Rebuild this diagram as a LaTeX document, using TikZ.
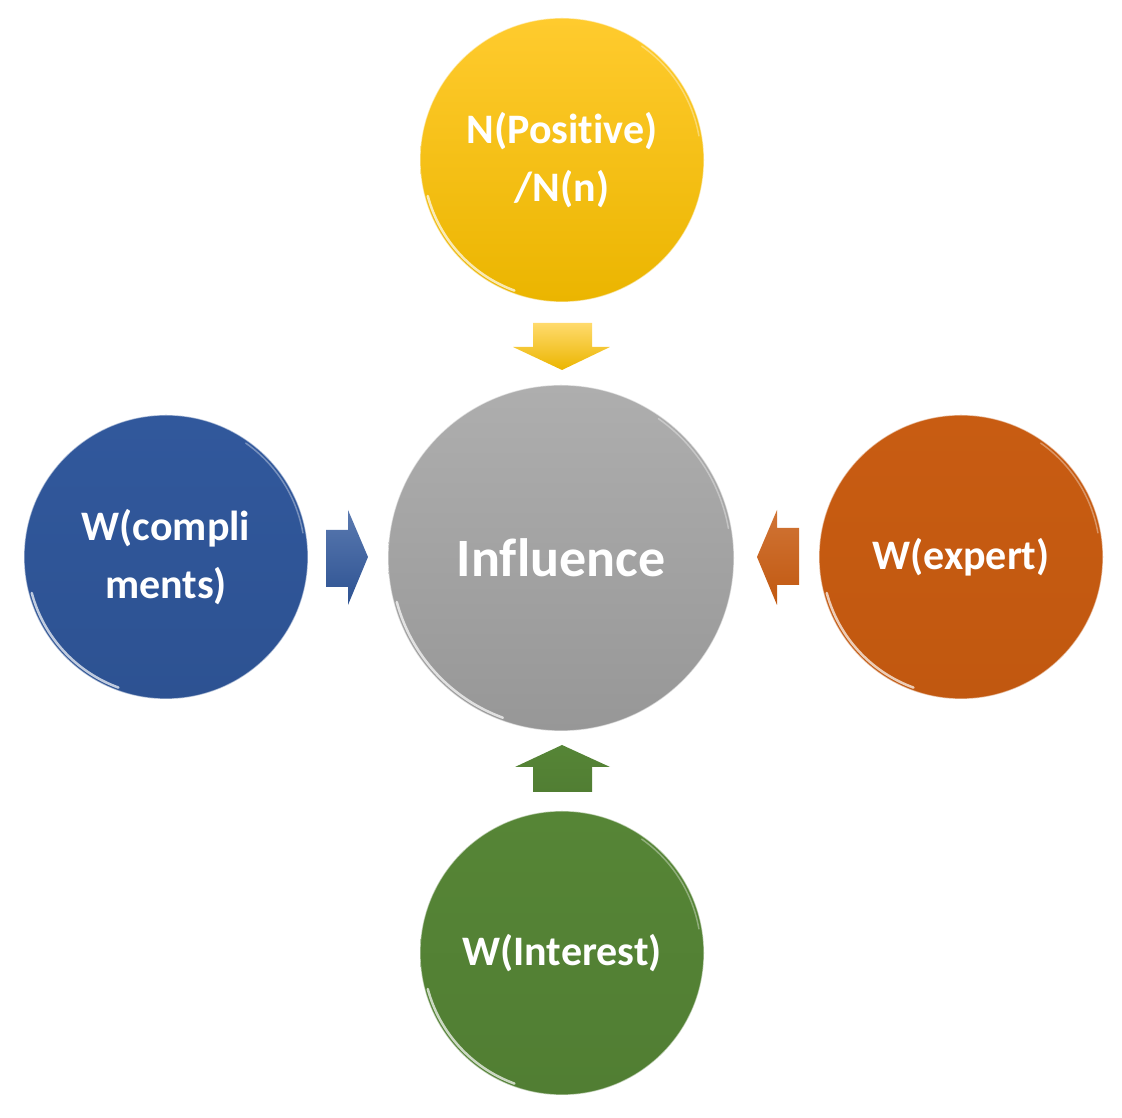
\documentclass[tikz,border=0pt]{standalone}
\usepackage{fontspec}
\setmainfont{Carlito}[Ligatures=NoCommon]
\usetikzlibrary{calc}
\definecolor{yelTop}{HTML}{FFCB2E}
\definecolor{yelBot}{HTML}{EBB500}
\definecolor{grayTop}{HTML}{AEAEAE}
\definecolor{grayBot}{HTML}{979797}
\definecolor{bluTop}{HTML}{31589C}
\definecolor{bluBot}{HTML}{2D5292}
\definecolor{oraTop}{HTML}{C85C12}
\definecolor{oraBot}{HTML}{C15810}
\definecolor{grnTop}{HTML}{568536}
\definecolor{grnBot}{HTML}{517E33}
\begin{document}
\begin{tikzpicture}[x=1pt,y=1pt]
\useasboundingbox (0,0) rectangle (1122,1118);
\tikzset{
  ball/.style={circle, inner sep=0pt, minimum size=284, text=white,
    font=\bfseries\fontsize{42}{58}\selectfont, align=center,
    draw=white, draw opacity=0.55, line width=1.2pt},
  rim/.style={white, line width=2.5pt, opacity=0.7, line cap=round}
}
% nodes
\node[ball, top color=yelTop, bottom color=yelBot] (pos) at (562,958) {\raisebox{-5pt}{N(Positive)}\\\raisebox{-5pt}{/N(n)}};
\node[ball, top color=bluTop, bottom color=bluBot] (cmp) at (166,561) {W(compli\\ments)};
\node[ball, top color=oraTop, bottom color=oraBot] (exp) at (961,561) {W(expert)};
\node[ball, top color=grnTop, bottom color=grnBot] (int) at (562,165) {W(Interest)};
\node[ball, minimum size=346, top color=grayTop, bottom color=grayBot,
      font=\bfseries\fontsize{54}{60}\selectfont] (inf) at (561,560) {Influence};
% glossy rims
\foreach \n/\r in {pos/139, cmp/139, exp/139, int/139, inf/170}{
  \draw[rim] ($(\n.center)+(195:\r)$) arc[start angle=195, end angle=250, radius=\r];
  \draw[rim, opacity=0.35, line width=1.5pt] ($(\n.center)+(10:\r)$) arc[start angle=10, end angle=55, radius=\r];
}
% block arrows
\shade[top color=yelTop!70!white, bottom color=yelBot]
  (533,795) -- (592,795) -- (592,771) -- (610,771) -- (562,748) -- (513,771) -- (533,771) -- cycle;
\shade[top color=grnTop, bottom color=grnBot]
  (562,373) -- (610,351) -- (592,351) -- (592,326) -- (533,326) -- (533,351) -- (515,351) -- cycle;
\shade[top color=bluTop!80!white, bottom color=bluBot]
  (326,588) -- (348,588) -- (348,608) -- (368,561) -- (348,513) -- (348,531) -- (326,531) -- cycle;
\shade[top color=oraTop!85!white, bottom color=oraBot]
  (799,590) -- (777,590) -- (777,608) -- (757,561) -- (777,513) -- (777,533) -- (799,533) -- cycle;
\end{tikzpicture}
\end{document}
